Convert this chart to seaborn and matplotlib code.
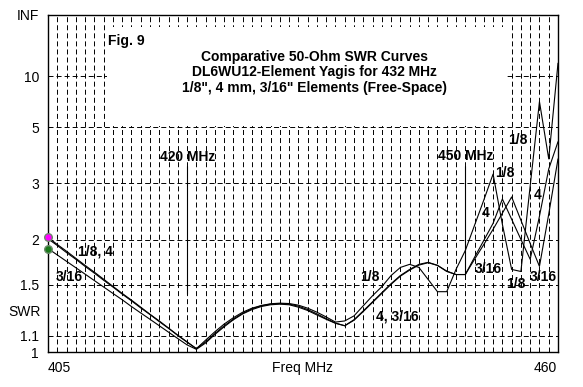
import numpy as np
import pandas as pd
import matplotlib
matplotlib.use("Agg")
import matplotlib.pyplot as plt
import seaborn as sns
from matplotlib.patches import Rectangle

# ---------------- data ----------------
freq = list(range(405, 461))

swr_eighth = [2.030, 1.937, 1.853, 1.770, 1.692, 1.621, 1.551, 1.484, 1.421, 1.364, 1.307, 1.252, 1.203, 1.153, 1.105, 1.062,
              1.020, 1.073, 1.128, 1.181, 1.227, 1.268, 1.299, 1.320, 1.334, 1.339, 1.336, 1.323, 1.299, 1.268, 1.232, 1.195, 1.203,
              1.240, 1.318, 1.401, 1.481, 1.587, 1.670, 1.703, 1.670, 1.548, 1.436, 1.436, 1.649, 1.861, 2.205, 2.643, 3.237,
              2.221, 1.649, 1.628, 2.945, 6.782, 3.684, 12.99]

swr_4mm = [2.012, 1.924, 1.837, 1.759, 1.681, 1.611, 1.541, 1.478, 1.415, 1.358, 1.301, 1.250, 1.198, 1.151, 1.103, 1.060,
           1.020, 1.062, 1.116, 1.169, 1.217, 1.260, 1.294, 1.318, 1.331, 1.336, 1.331, 1.315, 1.288, 1.255, 1.220, 1.188, 1.169,
           1.212, 1.278, 1.350, 1.427, 1.509, 1.587, 1.649, 1.703, 1.725, 1.692, 1.628, 1.597, 1.597, 1.782, 1.990, 2.236,
           2.663, 2.300, 2.003, 1.759, 2.350, 3.376, 4.319]

swr_316 = [1.886, 1.809, 1.736, 1.667, 1.601, 1.538, 1.478, 1.421, 1.367, 1.312, 1.262, 1.215, 1.169, 1.125, 1.083, 1.043,
           1.016, 1.055, 1.110, 1.162, 1.212, 1.255, 1.288, 1.312, 1.326, 1.331, 1.326, 1.307, 1.281, 1.247, 1.215, 1.186, 1.169,
           1.208, 1.273, 1.345, 1.421, 1.503, 1.581, 1.642, 1.695, 1.721, 1.692, 1.632, 1.597, 1.597, 1.759, 1.937, 2.145,
           2.401, 2.704, 2.284, 1.950, 1.681, 2.384, 3.684]

series_names = ['1/8"', '4 mm', '3/16"']
ytick_values = [1, 1.1, 1.5, 2, 3, 5, 10, 1e7]
ytick_labels = ["1", "1.1", "1.5", "2", "3", "5", "10", "INF"]
title_lines = ["Comparative 50-Ohm SWR Curves",
               "DL6WU12-Element Yagis for 432 MHz",
               "1/8\", 4 mm, 3/16\" Elements (Free-Space)"]

df = pd.DataFrame({
    "freq": freq * 3,
    "swr": swr_eighth + swr_4mm + swr_316,
    "element": sum([[n] * len(freq) for n in series_names], []),
})

# ---------------- style ----------------
sns.set_theme(style="white")
plt.rcParams['font.family'] = ['Liberation Sans', 'DejaVu Sans']
plt.rcParams['lines.scale_dashes'] = False

fig = plt.figure(figsize=(5.83, 3.87), dpi=100, facecolor="white")
ax = fig.add_axes([48 / 583, 35 / 387, 510 / 583, 337 / 387])
ax.set_facecolor("white")

sns.lineplot(data=df, x="freq", y="swr", hue="element", units="element", estimator=None,
             palette=["black"] * 3, linewidth=0.8, legend=False, ax=ax, zorder=3)

def fwd(s):
    s = np.asarray(s, dtype=float)
    return (s - 1.0) / (s + 1.0)

def inv(r):
    r = np.asarray(r, dtype=float)
    with np.errstate(divide="ignore", invalid="ignore"):
        return (1.0 + r) / np.clip(1.0 - r, 1e-12, None)

ax.set_yscale("function", functions=(fwd, inv))
ax.set_xlim(405, 460)
ax.set_ylim(1, 1e7)

ax.set_yticks(ytick_values)
ax.set_yticklabels(ytick_labels, fontsize=10)
ax.set_yticks([], minor=True)
ax.set_xticks(freq)
ax.set_xticklabels([""] * len(freq))
ax.tick_params(axis="both", length=0, pad=6.5, colors="black")
ax.set_xlabel("")
ax.set_ylabel("")

dash = (0, (3.6, 2.2))
ax.grid(True, axis="both", color="black", linewidth=0.7, linestyle=dash)
ax.set_axisbelow(True)
for sp in ax.spines.values():
    sp.set_color("black")
    sp.set_linewidth(1.0)
    sp.set_zorder(5)

# white title box covering the grid
ax.add_patch(Rectangle((0.1157, 0.671), 0.785, 0.293, transform=ax.transAxes,
                       facecolor="white", edgecolor="none", zorder=1.5))

# source markers
ax.scatter([freq[0]], [swr_eighth[0]], s=30, color="#ff00ff", edgecolor="#6a8a6a", linewidth=1.0, zorder=6, clip_on=False)
ax.scatter([freq[0]], [swr_316[0]], s=30, color="#1a7a1a", edgecolor="#6a8a6a", linewidth=1.0, zorder=6, clip_on=False)

# annotation lines
ax.plot([420, 420], [3.45, 1.42], color="black", linewidth=0.8, zorder=3)
ax.plot([450, 450], [3.45, 1.60], color="black", linewidth=0.8, zorder=3)

bold = dict(fontsize=10, fontweight="bold", color="black", zorder=7)
ax.text(0.1176, 0.923, "Fig. 9", transform=ax.transAxes, ha="left", va="center", **bold)
for i, line in enumerate(title_lines):
    ax.text(0.5225, 0.875 - 0.0455 * i, line, transform=ax.transAxes, ha="center", va="center", **bold)

ax.text(420.04, 3.75, "420 MHz", ha="center", va="center", **bold)
ax.text(450.08, 3.78, "450 MHz", ha="center", va="center", **bold)
ax.text(410.1, 1.844, "1/8, 4", ha="center", va="center", **bold)
ax.text(407.3, 1.573, "3/16", ha="center", va="center", **bold)
ax.text(439.7, 1.573, "1/8", ha="center", va="center", **bold)
ax.text(442.7, 1.239, "4, 3/16", ha="center", va="center", **bold)
ax.text(454.3, 3.265, "1/8", ha="center", va="center", **bold)
ax.text(455.7, 4.39, "1/8", ha="center", va="center", **bold)
ax.text(452.2, 2.404, "4", ha="center", va="center", **bold)
ax.text(457.8, 2.745, "4", ha="center", va="center", **bold)
ax.text(452.5, 1.654, "3/16", ha="center", va="center", **bold)
ax.text(455.5, 1.506, "1/8", ha="center", va="center", **bold)
ax.text(458.4, 1.573, "3/16", ha="center", va="center", **bold)

reg = dict(fontsize=10, color="black")
ax.text(0.0, -0.0475, "405", transform=ax.transAxes, ha="left", va="center", **reg)
ax.text(0.998, -0.0475, "460", transform=ax.transAxes, ha="right", va="center", **reg)
ax.text(0.5, -0.0475, "Freq MHz", transform=ax.transAxes, ha="center", va="center", **reg)
ax.text(-0.0784, 0.1187, "SWR", transform=ax.transAxes, ha="left", va="center", **reg)

fig.savefig("out.png", dpi=100, facecolor="white")
